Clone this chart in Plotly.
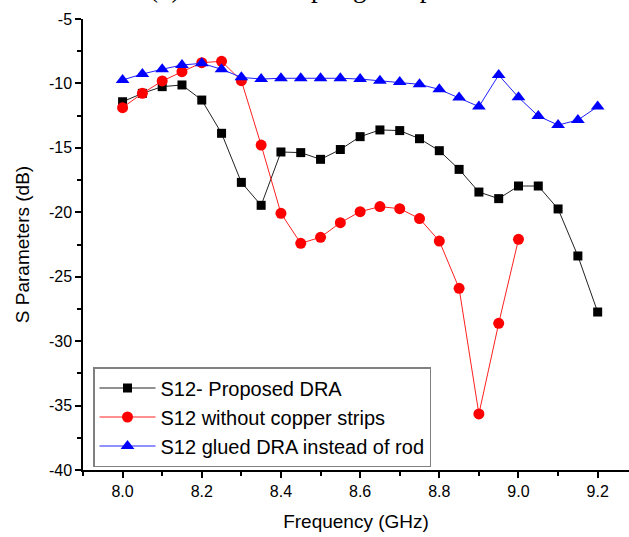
import plotly.graph_objects as go

freq_black = [8.0, 8.05, 8.1, 8.15, 8.2, 8.25, 8.3, 8.35, 8.4, 8.45, 8.5, 8.55, 8.6,
              8.65, 8.7, 8.75, 8.8, 8.85, 8.9, 8.95, 9.0, 9.05, 9.1, 9.15, 9.2]
s12_proposed = [-11.42, -10.77, -10.25, -10.12, -11.29, -13.87, -17.68, -19.46, -15.32,
                -15.37, -15.89, -15.13, -14.13, -13.61, -13.66, -14.29, -15.22, -16.67,
                -18.43, -18.94, -17.96, -17.96, -19.74, -23.39, -27.74]

freq_red = [8.0, 8.05, 8.1, 8.15, 8.2, 8.25, 8.3, 8.35, 8.4, 8.45, 8.5, 8.55, 8.6,
            8.65, 8.7, 8.75, 8.8, 8.85, 8.9, 8.95, 9.0]
s12_no_copper = [-11.88, -10.77, -9.81, -9.09, -8.39, -8.28, -9.79, -14.78, -20.08,
                 -22.41, -21.94, -20.81, -19.95, -19.56, -19.72, -20.49, -22.23, -25.9,
                 -35.65, -28.62, -22.1]

freq_blue = freq_black
s12_glued = [-9.73, -9.27, -8.9, -8.57, -8.44, -8.9, -9.53, -9.66, -9.6, -9.6, -9.6,
             -9.6, -9.66, -9.79, -9.89, -10.07, -10.46, -11.1, -11.8, -9.35, -11.08,
             -12.53, -13.23, -12.84, -11.8]

y_tick_vals = [-40, -35, -30, -25, -20, -15, -10, -5]
y_tick_text = ["-40", "-35", "-30", "-25", "-20", "-15", "-10", "-5"]
x_tick_vals = [8.0, 8.2, 8.4, 8.6, 8.8, 9.0, 9.2]
x_tick_text = ["8.0", "8.2", "8.4", "8.6", "8.8", "9.0", "9.2"]

names = ["S12- Proposed DRA", "S12 without copper strips", "S12 glued DRA instead of rod"]
title_text = "(b) Mutual coupling comparison"

FONT = "Liberation Sans, Arial, sans-serif"

fig = go.Figure()
fig.add_trace(go.Scatter(x=freq_black, y=s12_proposed, mode="lines+markers", name=names[0],
                         line=dict(color="#222222", width=1),
                         marker=dict(symbol="square", size=9, color="black")))
fig.add_trace(go.Scatter(x=freq_red, y=s12_no_copper, mode="lines+markers", name=names[1],
                         line=dict(color="#ff2020", width=1),
                         marker=dict(symbol="circle", size=11, color="#ff0000")))
fig.add_trace(go.Scatter(x=freq_blue, y=s12_glued, mode="lines+markers", name=names[2],
                         line=dict(color="#2020ff", width=1),
                         marker=dict(symbol="triangle-up", size=12, color="#0000ff")))

L, T, B = 83, 19, 67
W, H = 629, 537
pw = W - L
ph = H - T - B
x0 = 7.9
px_per_ghz = 395.9
x1 = x0 + pw / px_per_ghz

fig.update_layout(
    width=W, height=H,
    margin=dict(l=L, r=0, t=T, b=B, pad=0, autoexpand=False),
    paper_bgcolor="white", plot_bgcolor="white",
    font=dict(family=FONT, color="black"),
    showlegend=True,
    legend=dict(x=(93 - L) / pw, y=(H - B - 367) / ph, xanchor="left", yanchor="top",
                bgcolor="white", bordercolor="#808080", borderwidth=1.5,
                font=dict(family=FONT, size=20, color="black"),
                itemwidth=56, tracegroupgap=0),
    xaxis=dict(range=[x0, x1], showgrid=False, zeroline=False, automargin=False,
               showline=True, linecolor="black", linewidth=1.5,
               ticks="outside", ticklen=6, tickwidth=1.5, tickcolor="black",
               tickmode="array", tickvals=x_tick_vals, ticktext=x_tick_text,
               tickfont=dict(family=FONT, size=16),
               minor=dict(tickmode="linear", tick0=7.9, dtick=0.1, ticks="outside",
                          ticklen=4, tickwidth=1.5, tickcolor="black"),
               title=dict(text="Frequency (GHz)", font=dict(family=FONT, size=19), standoff=16)),
    yaxis=dict(range=[-40, -5], showgrid=False, zeroline=False, automargin=False,
               showline=True, linecolor="black", linewidth=1.5,
               ticks="outside", ticklen=6, tickwidth=1.5, tickcolor="black",
               tickmode="array", tickvals=y_tick_vals, ticktext=y_tick_text,
               tickfont=dict(family=FONT, size=16),
               minor=dict(tickmode="linear", tick0=-40, dtick=2.5, ticks="outside",
                          ticklen=4, tickwidth=1.5, tickcolor="black"),
               title=dict(text="S Parameters (dB)", font=dict(family=FONT, size=19), standoff=14)),
    annotations=[dict(text=title_text, xref="paper", yref="paper",
                      x=(324 - L) / pw, y=1 + (T - 5) / ph, xanchor="center", yanchor="bottom",
                      showarrow=False,
                      font=dict(family="Liberation Serif, Times New Roman, serif", size=27,
                                color="black"))],
)

fig.write_html("out.html",
               config={"displayModeBar": False},
               post_script="document.body.style.margin='0px';document.body.style.padding='0px';"
                           "document.body.style.overflow='hidden';")
